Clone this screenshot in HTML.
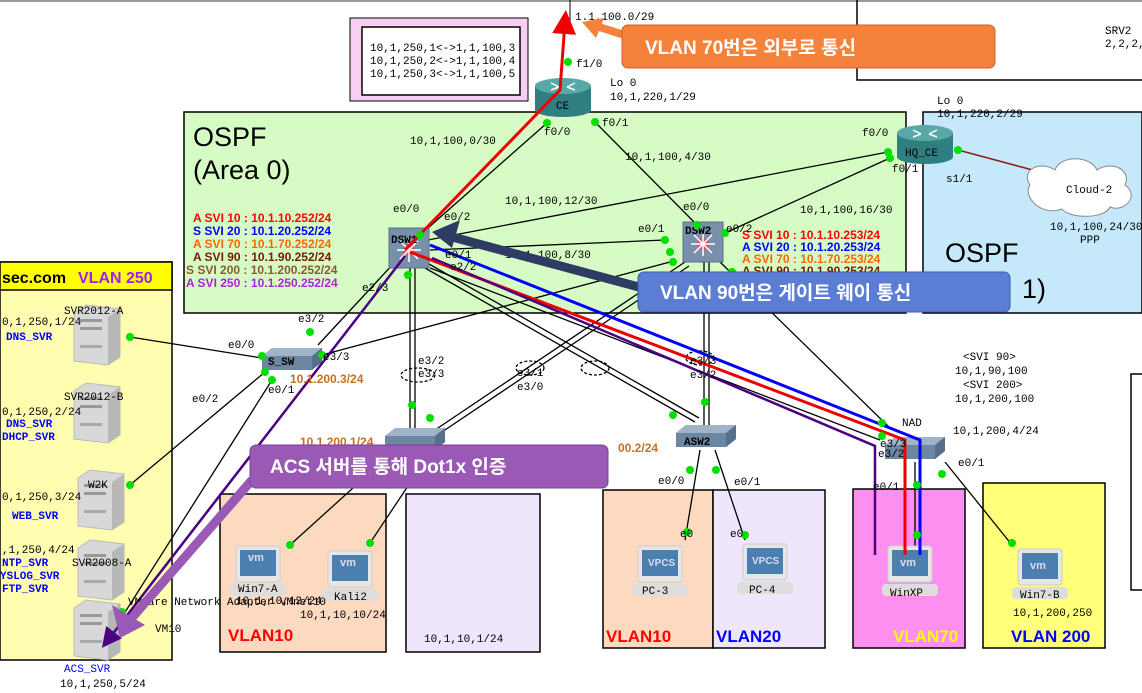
<!DOCTYPE html>
<html><head><meta charset="utf-8"><style>
html,body{margin:0;padding:0;background:#fff;width:1142px;height:693px;overflow:hidden}
svg{display:block;font-family:"Liberation Sans","Noto Sans CJK KR",sans-serif}
.m{font-family:"Liberation Mono","DejaVu Sans Mono",monospace;font-size:11px;fill:#000}
.k{font-family:"Liberation Sans","Noto Sans CJK KR",sans-serif;font-weight:bold;fill:#fff;font-size:19px}
</style></head><body>
<svg width="1142" height="693" viewBox="0 0 1142 693" xmlns="http://www.w3.org/2000/svg">
<defs>
<marker id="ar" markerWidth="8" markerHeight="8" refX="4" refY="4" orient="auto"><path d="M0,0 L8,4 L0,8z" fill="#e00"/></marker>
<marker id="ap" markerWidth="8" markerHeight="8" refX="4" refY="4" orient="auto"><path d="M0,0 L8,4 L0,8z" fill="#4b0082"/></marker>
<g id="srv"><path d="M0,8 L12,0 L46,4 L46,52 L34,60 L0,56z" fill="#d8d8d8" stroke="#bbb"/><path d="M34,12 L46,4 L46,52 L34,60z" fill="#b8b8b8"/><rect x="6" y="14" width="22" height="3" fill="#999"/><rect x="6" y="22" width="22" height="3" fill="#999"/><rect x="6" y="40" width="22" height="3" fill="#aaa"/></g>
<g id="pc"><rect x="-28" y="22" width="56" height="12" rx="4" fill="#ddd"/><rect x="-22" y="-16" width="44" height="36" rx="3" fill="#e6e6e6" stroke="#ccc"/><rect x="-18" y="-12" width="36" height="26" fill="#4a7fb0"/></g>
<g id="l2"><path d="M0,8 L10,0 L60,0 L60,14 L50,22 L0,22z" fill="#6d87a3"/><path d="M0,8 L10,0 L60,0 L50,8z" fill="#9fb4c9"/><path d="M50,8 L60,0 L60,14 L50,22z" fill="#55708c"/></g>
<g id="l3"><rect x="0" y="0" width="40" height="40" fill="#7890aa" stroke="#5a7088"/><circle cx="20" cy="22" r="6" fill="#e05060"/><path d="M8,22h24M20,10v24M11,13l18,18M29,13l-18,18" stroke="#fff" stroke-width="1.5"/></g>
<g id="rt"><rect x="0" y="8" width="56" height="24" fill="#2f7f80"/><ellipse cx="28" cy="32" rx="28" ry="7" fill="#2f7f80"/><ellipse cx="28" cy="8" rx="28" ry="8" fill="#5aa7a8"/><path d="M16,5l8,4M40,5l-8,4M16,12l8,-3M40,12l-8,-3" stroke="#fff" stroke-width="1.5"/></g>
</defs>
<line x1="0" y1="1" x2="1142" y2="1" stroke="#999" stroke-width="2"/>
<line x1="570" y1="0" x2="570" y2="30" stroke="#000"/>
<path d="M857,0 V80 H1142" fill="none" stroke="#000" stroke-width="1.5"/>
<text x="1105" y="34" class="m">SRV2</text><text x="1105" y="47" class="m">2,2,2,</text>
<rect x="350" y="18" width="178" height="83" fill="#f6cff2" stroke="#000"/>
<rect x="362" y="27" width="158" height="68" fill="#fff" stroke="#000" stroke-width="1.5"/>
<text x="370" y="51" class="m">10,1,250,1&lt;-&gt;1,1,100,3</text>
<text x="370" y="64" class="m">10,1,250,2&lt;-&gt;1,1,100,4</text>
<text x="370" y="77" class="m">10,1,250,3&lt;-&gt;1,1,100,5</text>
<rect x="184" y="112" width="722" height="201" fill="#d6fbc4" stroke="#000" stroke-width="1.5"/>
<rect x="923" y="112" width="219" height="201" fill="#c5e9fb" stroke="#000" stroke-width="1.5"/>
<text x="193" y="146" font-size="27" fill="#000">OSPF</text>
<text x="193" y="179" font-size="27" fill="#000">(Area 0)</text>
<text x="945" y="262" font-size="27" fill="#000">OSPF</text>
<text x="1022" y="298" font-size="27" fill="#000">1)</text>
<g font-size="12" font-weight="bold">
<text x="193" y="222" fill="#f00">A SVI 10 : 10.1.10.252/24</text>
<text x="193" y="235" fill="#00f">S SVI 20 : 10.1.20.252/24</text>
<text x="193" y="248" fill="#f60">A SVI 70 : 10.1.70.252/24</text>
<text x="193" y="261" fill="#702000">A SVI 90 : 10.1.90.252/24</text>
<text x="186" y="274" fill="#8b5a2b">S SVI 200 : 10.1.200.252/24</text>
<text x="186" y="287" fill="#b020e0">A SVI 250 : 10.1.250.252/24</text>
<text x="742" y="239" fill="#f00">S SVI 10 : 10.1.10.253/24</text>
<text x="742" y="251" fill="#00f">A SVI 20 : 10.1.20.253/24</text>
<text x="742" y="263" fill="#f60">A SVI 70 : 10.1.70.253/24</text>
<text x="742" y="275" fill="#702000">A SVI 90 : 10.1.90.253/24</text>
</g>
<rect x="0" y="262" width="172" height="398" fill="#fffdb0" stroke="#000" stroke-width="1.5"/>
<rect x="0" y="262" width="172" height="28" fill="#ffff00" stroke="#000" stroke-width="1.5"/>
<text x="2" y="283" font-size="16" font-weight="bold">sec.com</text>
<text x="78" y="283" font-size="16" font-weight="bold" fill="#a020f0">VLAN 250</text>
<rect x="220" y="494" width="166" height="158" fill="#fdd9bf" stroke="#000" stroke-width="1.5"/>
<rect x="406" y="494" width="134" height="158" fill="#f0e6fc" stroke="#000" stroke-width="1.5"/>
<rect x="603" y="490" width="110" height="158" fill="#fdd9bf" stroke="#000" stroke-width="1.5"/>
<rect x="713" y="490" width="112" height="158" fill="#f0e6fc" stroke="#000" stroke-width="1.5"/>
<rect x="853" y="489" width="112" height="159" fill="#fd8ff0" stroke="#000" stroke-width="1.5"/>
<rect x="983" y="483" width="122" height="165" fill="#ffff7a" stroke="#000" stroke-width="1.5"/>
<path d="M1142,374 H1131 V590 H1142" fill="none" stroke="#000" stroke-width="1.5"/>
<g font-size="17" font-weight="bold">
<text x="228" y="641" fill="#f00">VLAN10</text>
<text x="606" y="642" fill="#f00">VLAN10</text>
<text x="716" y="642" fill="#00f">VLAN20</text>
<text x="893" y="642" fill="#ff0">VLAN70</text>
<text x="1011" y="642" fill="#00f">VLAN 200</text>
</g>
<text x="424" y="642" class="m">10,1,10,1/24</text>
<g stroke="#000" fill="none" stroke-width="1.3">
<line x1="547" y1="123" x2="420" y2="235"/>
<line x1="595" y1="122" x2="697" y2="225"/>
<line x1="428" y1="240" x2="888" y2="152"/>
<line x1="725" y1="233" x2="890" y2="158"/>
<line x1="430" y1="250" x2="665" y2="240"/>
<line x1="318" y1="345" x2="395" y2="262"/>
<line x1="322" y1="355" x2="670" y2="262"/>
<line x1="130" y1="337" x2="262" y2="358"/>
<line x1="265" y1="372" x2="130" y2="485"/>
<line x1="272" y1="380" x2="115" y2="628"/>
<line x1="720" y1="262" x2="890" y2="428"/>
<line x1="395" y1="450" x2="290" y2="545"/>
<line x1="432" y1="450" x2="370" y2="543"/>
<line x1="700" y1="450" x2="685" y2="540"/>
<line x1="715" y1="450" x2="745" y2="540"/>
<line x1="945" y1="462" x2="1012" y2="545"/>
<line x1="430" y1="268" x2="880" y2="440"/>
<line x1="410" y1="268" x2="410" y2="428"/><line x1="415" y1="268" x2="415" y2="428"/>
<line x1="704" y1="262" x2="704" y2="425"/><line x1="709" y1="262" x2="709" y2="425"/>
<line x1="425" y1="268" x2="695" y2="422"/><line x1="429" y1="264" x2="699" y2="418"/>
<line x1="685" y1="262" x2="432" y2="432"/><line x1="689" y1="266" x2="436" y2="436"/>
<line x1="915" y1="462" x2="915" y2="555"/>
<ellipse cx="418" cy="375" rx="17" ry="7" stroke-dasharray="3,2"/>
<ellipse cx="530" cy="368" rx="14" ry="7" stroke-dasharray="3,2"/>
<ellipse cx="595" cy="368" rx="14" ry="7" stroke-dasharray="3,2"/>
<ellipse cx="700" cy="358" rx="14" ry="7" stroke-dasharray="3,2"/>
</g>
<line x1="958" y1="150" x2="1040" y2="172" stroke="#8b1a1a" stroke-width="1.5"/>
<path d="M1030,185 c-10,-15 10,-25 25,-15 c5,-15 35,-15 42,0 c15,-10 35,0 28,15 c15,10 0,28 -15,22 c-5,12 -40,12 -48,2 c-20,8 -40,-12 -32,-24z" fill="#fff" stroke="#888"/>
<text x="1066" y="193" class="m">Cloud-2</text>
<text x="1050" y="230" class="m">10,1,100,24/30</text>
<text x="1080" y="243" class="m">PPP</text>
<use href="#rt" x="535" y="78"/><text x="556" y="109" class="m" fill="#000">CE</text>
<use href="#rt" x="897" y="125"/><text x="905" y="156" class="m">HQ_CE</text>
<use href="#l3" x="389" y="228"/><text x="391" y="243" class="m" font-weight="bold">DSW1</text>
<use href="#l3" x="683" y="222"/><text x="685" y="234" class="m" font-weight="bold">DSW2</text>
<use href="#l2" x="262" y="348"/><text x="268" y="365" class="m" font-weight="bold">S_SW</text>
<use href="#l2" x="385" y="428"/>
<use href="#l2" x="676" y="425"/><text x="684" y="445" class="m" font-weight="bold">ASW2</text>
<use href="#l2" x="885" y="437"/>
<use href="#srv" x="74" y="305"/><use href="#srv" x="74" y="383"/><use href="#srv" x="78" y="470"/><use href="#srv" x="78" y="540"/><use href="#srv" x="74" y="600"/>
<use href="#pc" x="258" y="562"/><use href="#pc" x="350" y="567"/><use href="#pc" x="660" y="562"/><use href="#pc" x="765" y="560"/><use href="#pc" x="910" y="562"/><use href="#pc" x="1040" y="565"/>
<g font-size="11" font-weight="bold" fill="#dde">
<text x="248" y="561">vm</text><text x="340" y="566">vm</text><text x="648" y="566" font-size="10">VPCS</text><text x="752" y="564" font-size="10">VPCS</text><text x="900" y="566">vm</text><text x="1030" y="569">vm</text></g>
<g stroke-width="3" fill="none">
<polyline points="405,250 560,90 565,22" stroke="#e00" marker-end="url(#ar)"/>
<polyline points="410,252 905,440 905,555" stroke="#e00"/>
<polyline points="430,245 920,440 920,555" stroke="#00f"/>
<polyline points="432,258 875,446 875,555" stroke="#4b0082" stroke-width="2.5"/>
<line x1="405" y1="256" x2="108" y2="640" stroke="#4b0082" stroke-width="2.5" marker-end="url(#ap)"/>
</g>
<g fill="#00e000">
<circle cx="568" cy="62" r="4"/><circle cx="547" cy="123" r="4"/><circle cx="595" cy="122" r="4"/><circle cx="420" cy="235" r="4"/><circle cx="697" cy="225" r="4"/><circle cx="725" cy="233" r="4"/><circle cx="665" cy="240" r="4"/><circle cx="888" cy="152" r="4"/><circle cx="890" cy="158" r="4"/><circle cx="958" cy="150" r="4"/>
<circle cx="130" cy="337" r="4"/><circle cx="262" cy="356" r="4"/><circle cx="265" cy="372" r="4"/><circle cx="130" cy="485" r="4"/><circle cx="272" cy="380" r="4"/><circle cx="122" cy="612" r="4"/><circle cx="310" cy="332" r="4"/><circle cx="322" cy="355" r="4"/>
<circle cx="412" cy="405" r="4"/><circle cx="430" cy="418" r="4"/><circle cx="408" cy="275" r="4"/><circle cx="705" cy="402" r="4"/><circle cx="673" cy="415" r="4"/><circle cx="670" cy="252" r="4"/><circle cx="673" cy="262" r="4"/><circle cx="732" cy="272" r="4"/>
<circle cx="290" cy="545" r="4"/><circle cx="370" cy="543" r="4"/><circle cx="687" cy="532" r="4"/><circle cx="745" cy="535" r="4"/><circle cx="690" cy="470" r="4"/><circle cx="716" cy="470" r="4"/>
<circle cx="882" cy="423" r="4"/><circle cx="882" cy="436" r="4"/><circle cx="917" cy="485" r="4"/><circle cx="917" cy="535" r="4"/><circle cx="942" cy="474" r="4"/><circle cx="1012" cy="543" r="4"/>
</g>
<g class="m">
<text x="575" y="20">1.1.100.0/29</text><text x="576" y="67">f1/0</text>
<text x="610" y="86">Lo 0</text><text x="610" y="100">10,1,220,1/29</text>
<text x="937" y="104">Lo 0</text><text x="937" y="117">10,1,220,2/29</text>
<text x="544" y="135">f0/0</text><text x="602" y="126">f0/1</text><text x="862" y="136">f0/0</text><text x="892" y="172">f0/1</text><text x="946" y="182">s1/1</text>
<text x="410" y="144">10,1,100,0/30</text><text x="625" y="160">10,1,100,4/30</text>
<text x="505" y="204">10,1,100,12/30</text><text x="505" y="258">10,1,100,8/30</text><text x="800" y="213">10,1,100,16/30</text>
<text x="393" y="212">e0/0</text><text x="444" y="220">e0/2</text><text x="683" y="210">e0/0</text><text x="638" y="232">e0/1</text><text x="726" y="232">e0/2</text>
<text x="445" y="258">e0/1</text><text x="450" y="270">e2/2</text><text x="362" y="291">e2/3</text>
<text x="298" y="322">e3/2</text><text x="228" y="348">e0/0</text><text x="323" y="360">e3/3</text><text x="192" y="402">e0/2</text><text x="268" y="393">e0/1</text>
<text x="418" y="364">e3/2</text><text x="418" y="377">e3/3</text><text x="517" y="376">e3/1</text><text x="517" y="390">e3/0</text>
<text x="690" y="364">e3/3</text><text x="690" y="378">e3/2</text>
<text x="963" y="360">&lt;SVI 90&gt;</text><text x="955" y="374">10,1,90,100</text><text x="963" y="388">&lt;SVI 200&gt;</text><text x="955" y="402">10,1,200,100</text>
<text x="902" y="426">NAD</text><text x="953" y="434">10,1,200,4/24</text><text x="880" y="447">e3/3</text><text x="878" y="457">e3/2</text><text x="958" y="466">e0/1</text><text x="873" y="490">e0/1</text>
<text x="658" y="484">e0/0</text><text x="734" y="485">e0/1</text><text x="680" y="537">e0</text><text x="730" y="537">e0</text>
<text x="642" y="594">PC-3</text><text x="749" y="593">PC-4</text><text x="890" y="596">WinXP</text><text x="1020" y="598">Win7-B</text><text x="1013" y="616">10,1,200,250</text>
<text x="238" y="592">Win7-A</text><text x="236" y="604">10,1,10,12/24</text><text x="334" y="600">Kali2</text><text x="300" y="618">10,1,10,10/24</text>
<text x="128" y="605">VMware Network Adapter VMnet10</text><text x="155" y="632">VM10</text>
<text x="64" y="314">SVR2012-A</text><text x="2" y="325">0,1,250,1/24</text>
<text x="64" y="400">SVR2012-B</text><text x="2" y="415">0,1,250,2/24</text>
<text x="88" y="488">W2K</text><text x="2" y="500">0,1,250,3/24</text>
<text x="72" y="566">SVR2008-A</text><text x="2" y="553">,1,250,4/24</text>
<text x="64" y="672" fill="#00f">ACS_SVR</text><text x="60" y="687">10,1,250,5/24</text>
</g>
<g class="m" fill="#00f" font-weight="bold">
<text x="6" y="340" fill="#00f">DNS_SVR</text><text x="6" y="427" fill="#00f">DNS_SVR</text><text x="2" y="440" fill="#00f">DHCP_SVR</text><text x="12" y="519" fill="#00f">WEB_SVR</text>
<text x="2" y="566" fill="#00f">NTP_SVR</text><text x="0" y="579" fill="#00f">YSLOG_SVR</text><text x="2" y="592" fill="#00f">FTP_SVR</text>
</g>
<g font-size="12" font-weight="bold" fill="#c87020">
<text x="290" y="383">10.1.200.3/24</text><text x="300" y="446">10.1.200.1/24</text><text x="618" y="452">00.2/24</text></g>
<path d="M640,40 L596,26" stroke="#f5823a" stroke-width="8" fill="none"/><path d="M582,22 L604,18 L596,38z" fill="#f5823a"/>
<rect x="622" y="25" width="373" height="43" rx="6" fill="#f5823a" stroke="#d06020"/>
<text x="645" y="54" class="k">VLAN 70번은 외부로 통신</text>
<path d="M650,290 L445,235" stroke="#2e3b62" stroke-width="9" fill="none"/><path d="M432,232 L460,220 L452,248z" fill="#2e3b62"/>
<rect x="638" y="272" width="372" height="40" rx="6" fill="#5b7ed4" stroke="#3a5aa8"/>
<text x="660" y="299" class="k">VLAN 90번은 게이트 웨이 통신</text>
<path d="M252,480 L130,620" stroke="#9b59b6" stroke-width="9" fill="none"/><path d="M120,638 L112,605 L145,625z" fill="#9b59b6"/>
<rect x="250" y="445" width="358" height="43" rx="6" fill="#9b59b6" stroke="#7a3f95"/>
<text x="270" y="473" class="k">ACS 서버를 통해 Dot1x 인증</text>
</svg>
</body></html>
